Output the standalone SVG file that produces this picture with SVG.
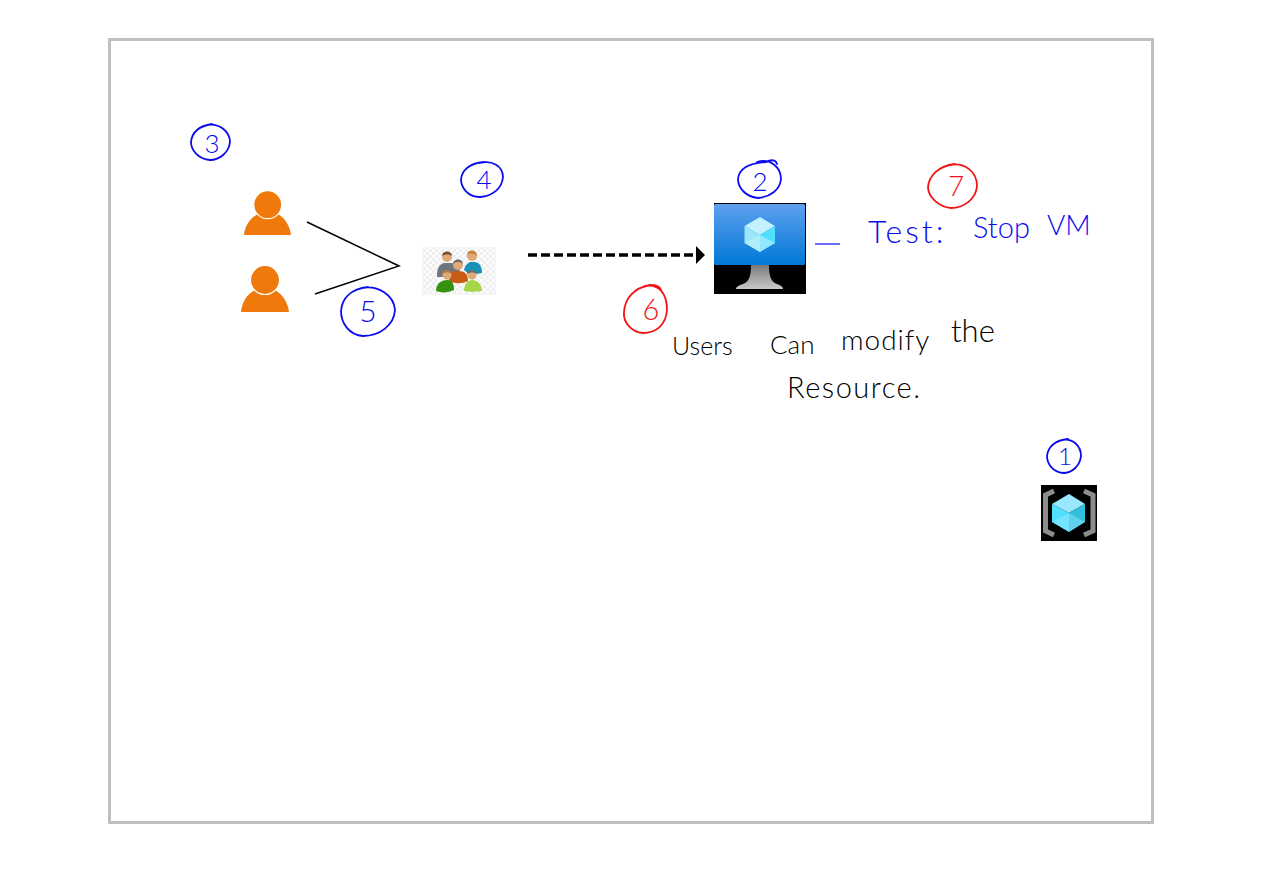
<svg xmlns="http://www.w3.org/2000/svg" width="1263" height="893" viewBox="0 0 1263 893">
<style>
.ink{fill:none;stroke-linecap:round;stroke-linejoin:round;stroke-width:1.800}
.b{stroke:#0a0af0}.r{stroke:#f01414}
.hand{font-family:"Lato","Open Sans","Liberation Sans",sans-serif;font-weight:300}
.nb{fill:#0a0af0}.nr{fill:#f01414}.num{font-size:26px;text-anchor:middle}
.person{fill:#ef7a0b}
.head{fill:#ef7a0b;stroke:#fff;stroke-width:1.200}
.face{fill:#e0aa78}
</style>
<defs>
<linearGradient id="screen" x1="0" y1="0" x2="0" y2="1"><stop offset="0" stop-color="#5ea0ef"/><stop offset="1" stop-color="#0078d4"/></linearGradient>
<linearGradient id="stand" x1="0" y1="0" x2="0" y2="1"><stop offset="0" stop-color="#7a7a7a"/><stop offset="1" stop-color="#c8c8c8"/></linearGradient>
<pattern id="chk" width="6" height="6" patternUnits="userSpaceOnUse"><rect width="6" height="6" fill="#fbfbfb"/><rect width="3" height="3" fill="#efefef"/><rect x="3" y="3" width="3" height="3" fill="#efefef"/></pattern>
<marker id="arrow" markerUnits="userSpaceOnUse" markerWidth="10" markerHeight="18" refX="0" refY="9" orient="auto"><path d="M0 0L9 9L0 18Z" fill="#000"/></marker>
</defs>
<rect id="frame" x="109.500" y="39.500" width="1043" height="783" fill="#fff" stroke="#bfbfbf" stroke-width="3"/>

<g id="connectors">
<path d="M307 222L399 266L315 294" fill="none" stroke="#000" stroke-width="1.500"/>
<path d="M528 255H696" fill="none" stroke="#000" stroke-width="3.500" stroke-dasharray="9 4" marker-end="url(#arrow)"/>
<path d="M815 244H840" fill="none" stroke="#0a0af0" stroke-width="1.200"/>
</g>

<g id="user-1">
<path class="person" d="M244 235C245 226 250 218 258 214C264 219 272 219 278 214C285 218 290 226 291 235Z"/>
<circle class="head" cx="267.700" cy="204.700" r="14"/>
</g>
<g id="user-2">
<path class="person" d="M241 312C242 302 247 294 255 290C261 295 269 295 275 290C282 294 288 302 289 312Z"/>
<circle class="head" cx="265" cy="280" r="14.500"/>
</g>

<g id="group-icon">
<rect x="422" y="247" width="74" height="48" fill="url(#chk)"/>
<path d="M437 274C437 268 440 264 444 263L452 263C456 264 459 267 460 271L452 277L437 277Z" fill="#6f7680"/>
<circle class="face" cx="447" cy="257" r="5"/>
<path d="M442 256C442 250 452 250 452 256C449 254 445 254 442 256Z" fill="#7a5230"/>
<path d="M464 270C465 265 468 263 470 262L475 262C480 263 482 267 482 273L470 275Z" fill="#1a8fb8"/>
<circle class="face" cx="472" cy="256" r="5"/>
<path d="M467 255C467 249 477 249 477 256C474 253 470 253 467 255Z" fill="#c9803a"/>
<path d="M449 281C449 274 452 271 458 271C465 271 468 274 468 281C462 284 455 284 449 281Z" fill="#c85a14"/>
<circle class="face" cx="458" cy="265" r="5"/>
<path d="M453 264C453 258 463 258 463 264C460 261 456 261 453 264Z" fill="#6a6a6a"/>
<path d="M436 291C436 285 440 280 447 280C453 280 454 285 454 290C448 293 441 293 436 291Z" fill="#35920f"/>
<circle class="face" cx="447" cy="275" r="4.500"/>
<path d="M442 274C442 269 452 269 452 274C449 272 445 272 442 274Z" fill="#b87a3c"/>
<path d="M464 291C464 285 467 280 472 280C478 280 482 285 482 291C476 292 470 292 464 291Z" fill="#a6d64a"/>
<circle class="face" cx="472" cy="275" r="4.500"/>
<path d="M467 274C467 269 477 269 477 274C474 272 470 272 467 274Z" fill="#6a6a6a"/>
</g>

<g id="vm-icon">
<rect x="714" y="203" width="92" height="91" fill="#000"/>
<rect x="714" y="204" width="91" height="61" rx="1.500" fill="url(#screen)"/>
<path d="M751 265H769C769 276 771 282 777 284C781 285 783 287 783 289H736C736 287 739 285 743 284C749 282 751 276 751 265Z" fill="url(#stand)"/>
<path d="M760 217L775 226L760 235L744.500 226Z" fill="#c3f1ff"/>
<path d="M744.500 226L760 235V252L744.500 243Z" fill="#9be6fb"/>
<path d="M775 226V243L760 252V235Z" fill="#50e0ff"/>
<path d="M760 235L775 243L760 252L744.500 243Z" fill="#c3f1ff" fill-opacity=".55"/>
</g>

<g id="vm-image-icon">
<rect x="1041" y="485" width="56" height="56" fill="#000"/>
<path d="M1054 491L1045.500 495V531L1054 535" fill="none" stroke="#8c8c8c" stroke-width="5"/>
<path d="M1084 491L1093 495V531L1084 535" fill="none" stroke="#8c8c8c" stroke-width="5"/>
<path d="M1069 494L1085 504L1069 513L1052 504Z" fill="#9ae8ff"/>
<path d="M1052 504L1069 513V532L1052 522Z" fill="#50e0ff"/>
<path d="M1085 504V522L1069 532V513Z" fill="#32bedd"/>
<path d="M1069 513L1085 522L1069 532L1052 522Z" fill="#9ae8ff" fill-opacity=".45"/>
</g>

<g id="mark-3">
<path class="ink b" d="M207 125C220 123 230 132 230 142C229 152 220 160 210 160C198 159 191 150 191 142C192 132 199 126 212 124"/>
<text class="hand num nb" x="212" y="153">3</text>
</g>
<g id="mark-4">
<path class="ink b" d="M480 163C492 160 503 166 503 177C502 189 492 196 480 197C468 197 461 188 461 179C462 170 470 163 484 162"/>
<text class="hand num nb" x="484" y="189">4</text>
</g>
<g id="mark-5">
<path class="ink b" d="M362 288C378 285 394 295 395 310C394 325 380 336 363 336C349 335 341 323 341 311C342 298 351 289 368 287"/>
<text class="hand num nb" x="368" y="322" style="font-size:30px">5</text>
</g>
<g id="mark-2">
<path class="ink b" d="M757 162C770 158 781 167 781 179C780 190 770 197 758 198C746 197 738 188 738 179C739 169 749 163 766 162C772 159 776 160 777 164"/>
<text class="hand num nb" x="760" y="191">2</text>
</g>
<g id="mark-6">
<path class="ink r" d="M645 286C658 284 667 292 667 310C666 325 656 333 643 333C631 332 623 322 624 312C625 298 634 288 650 285C656 285 660 286 661 290"/>
<text class="hand num nr" x="651" y="320" style="font-size:29px">6</text>
</g>
<g id="mark-7">
<path class="ink r" d="M950 165C965 162 977 172 977 186C976 199 964 208 951 208C939 207 928 197 928 187C929 176 938 166 955 164"/>
<text class="hand num nr" x="956" y="196" style="font-size:28px">7</text>
</g>
<g id="mark-1">
<path class="ink b" d="M1062 440C1073 438 1081 446 1081 456C1080 466 1072 473 1063 473C1053 472 1047 464 1047 456C1048 447 1055 440 1068 439"/>
<text class="hand num nb" x="1065" y="465" style="font-size:24px">1</text>
</g>

<g id="note-test">
<text class="hand nb"><tspan x="868" y="243" font-size="32" letter-spacing="3">Test:</tspan> <tspan x="973" y="238" font-size="29">Stop</tspan> <tspan x="1047" y="235" font-size="28">VM</tspan></text>
</g>
<g id="note-users">
<text class="hand" fill="#000"><tspan x="672" y="355" font-size="25">Users</tspan> <tspan x="770" y="354" font-size="26">Can</tspan> <tspan x="841" y="350" font-size="28" letter-spacing="1">modify</tspan> <tspan x="951" y="342" font-size="31">the</tspan></text>
<text class="hand" font-size="29" letter-spacing="1.500" fill="#000" x="787" y="398">Resource.</text>
</g>
</svg>
